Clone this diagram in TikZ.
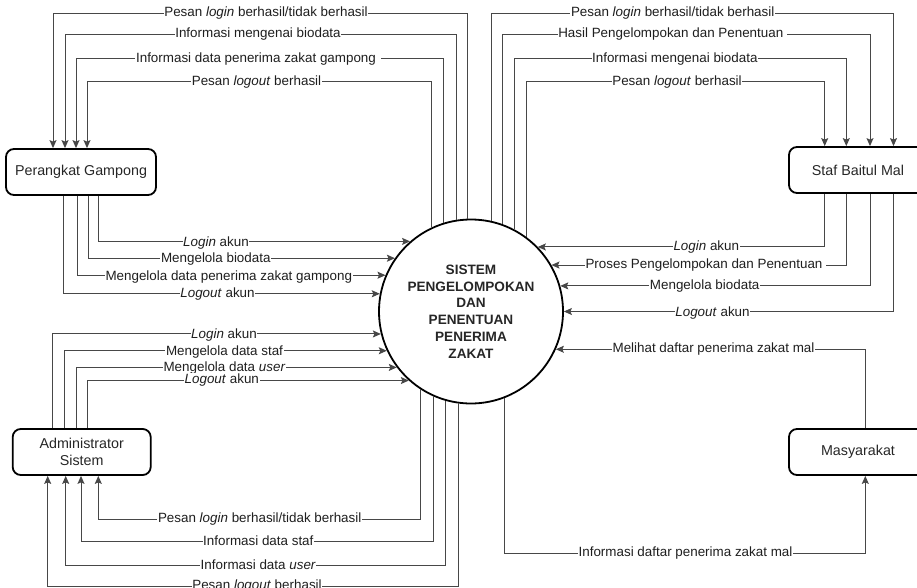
\documentclass[tikz,border=0pt]{standalone}
\usepackage{fontspec}
\setmainfont{Liberation Sans}
\usetikzlibrary{arrows.meta}
% points on the border of the central circle (sys): centre (471,311.5), radius 92
\newcommand\sysTopPt[2]{\pgfmathsetmacro\myang{acos((#2-471)/92)}\coordinate (#1) at (sys.\myang);}
\newcommand\sysBotPt[2]{\pgfmathsetmacro\myang{-acos((#2-471)/92)}\coordinate (#1) at (sys.\myang);}
\newcommand\sysLeftPt[2]{\pgfmathsetmacro\myang{180+asin((#2-311.5)/92)}\coordinate (#1) at (sys.\myang);}
\newcommand\sysRightPt[2]{\pgfmathsetmacro\myang{asin((311.5-#2)/92)}\coordinate (#1) at (sys.\myang);}
\begin{document}
\begin{tikzpicture}[x=1pt,y=-1pt,
  ent/.style={draw=black, line width=1.8pt, rounded corners=8pt, minimum height=46pt,
    inner sep=0pt, align=center, text=black!85, font=\fontsize{14.3}{16.7}\selectfont},
  proc/.style={draw=black, circle, line width=1.8pt, minimum size=184pt, inner sep=0pt,
    align=center, text=black!85, font=\bfseries\fontsize{13.6}{16.7}\selectfont},
  flow/.style={draw=black!72, line width=1pt, -{Stealth[length=8pt,width=7pt,inset=1.5pt]}},
  lbl/.style={fill=white, inner sep=0.6pt, text height=9.6pt, text depth=2.8pt,
    text=black!88, font=\fontsize{13.4}{15}\selectfont}]
\useasboundingbox (0,0) rectangle (917,588);

% ---------- nodes ----------
\node[proc] (sys) at (471,311.5) {SISTEM\\PENGELOMPOKAN\\DAN\\PENENTUAN\\PENERIMA\\ZAKAT};
\node[ent, minimum width=150pt] (pg) at (81,172) {Perangkat Gampong};
\node[ent, minimum width=138pt] (st) at (858,170) {Staf Baitul Mal};
\node[ent, minimum width=138pt] (ad) at (81.7,452) {Administrator\\Sistem};
\node[ent, minimum width=138pt] (ms) at (858,452) {Masyarakat};

% ---------- border points ----------
\sysTopPt{t1}{467.7}\sysTopPt{t2}{456}\sysTopPt{t3}{444}\sysTopPt{t4}{432}
\sysTopPt{t5}{490.3}\sysTopPt{t6}{502.3}\sysTopPt{t7}{514}\sysTopPt{t8}{525.7}
\sysLeftPt{p1}{242.7}\sysLeftPt{p2}{259}\sysLeftPt{p3}{276.7}\sysLeftPt{p4}{294}
\sysLeftPt{a1}{335}\sysLeftPt{a2}{351.7}\sysLeftPt{a3}{367.7}\sysLeftPt{a4}{380}
\sysRightPt{s1}{246.7}\sysRightPt{s2}{265}\sysRightPt{s3}{285.7}\sysRightPt{s4}{312.7}
\sysRightPt{m1}{349.3}
\sysBotPt{b1}{420.7}\sysBotPt{b2}{432.7}\sysBotPt{b3}{444.5}\sysBotPt{b4}{456.7}
\sysBotPt{b5}{502.7}

% ---------- sys -> Perangkat Gampong ----------
\draw[flow] (t1) -- (t1 |- 0,13.5) -| (pg.north -| 53,0);
\draw[flow] (t2) -- (t2 |- 0,34.5) -| (pg.north -| 65,0);
\draw[flow] (t3) -- (t3 |- 0,59) -| (pg.north -| 76,0);
\draw[flow] (t4) -- (t4 |- 0,82) -| (pg.north -| 87,0);
% ---------- sys -> Staf Baitul Mal ----------
\draw[flow] (t5) -- (t5 |- 0,13.5) -| (st.north -| 893.5,0);
\draw[flow] (t6) -- (t6 |- 0,34.5) -| (st.north -| 870,0);
\draw[flow] (t7) -- (t7 |- 0,59) -| (st.north -| 846.3,0);
\draw[flow] (t8) -- (t8 |- 0,82) -| (st.north -| 824.7,0);
% ---------- Perangkat Gampong -> sys ----------
\draw[flow] (pg.south -| 98,0) |- (p1);
\draw[flow] (pg.south -| 88,0) |- (p2);
\draw[flow] (pg.south -| 77,0) |- (p3);
\draw[flow] (pg.south -| 63,0) |- (p4);
% ---------- Administrator -> sys ----------
\draw[flow] (ad.north -| 52.3,0) |- (a1);
\draw[flow] (ad.north -| 64,0) |- (a2);
\draw[flow] (ad.north -| 76,0) |- (a3);
\draw[flow] (ad.north -| 87.3,0) |- (a4);
% ---------- Staf -> sys ----------
\draw[flow] (st.south -| 824.7,0) |- (s1);
\draw[flow] (st.south -| 846.3,0) |- (s2);
\draw[flow] (st.south -| 870.3,0) |- (s3);
\draw[flow] (st.south -| 893.7,0) |- (s4);
% ---------- Masyarakat ----------
\draw[flow] (ms.north -| 865.3,0) |- (m1);
\draw[flow] (b5) -- (b5 |- 0,553.3) -| (ms.south -| 865.3,0);
% ---------- sys -> Administrator ----------
\draw[flow] (b1) -- (b1 |- 0,519) -| (ad.south -| 98.3,0);
\draw[flow] (b2) -- (b2 |- 0,541.7) -| (ad.south -| 81,0);
\draw[flow] (b3) -- (b3 |- 0,565.7) -| (ad.south -| 65.7,0);
\draw[flow] (b4) -- (b4 |- 0,586.5) -| (ad.south -| 47.7,0);

% ---------- labels ----------
\node[lbl] (lt1) at (266,13.5) {Pesan \textit{login} berhasil/tidak berhasil};
\node[lbl] (lt2) at (258,34.5) {Informasi mengenai biodata};
\node[lbl] (lt3) at (258,59) {Informasi data penerima zakat gampong\kern4pt};
\node[lbl] (lt4) at (256.5,82) {Pesan \textit{logout} berhasil};

\node[lbl] (rt1) at (672.7,13.5) {Pesan \textit{login} berhasil/tidak berhasil};
\node[lbl] (rt2) at (672.3,34.5) {Hasil Pengelompokan dan Penentuan\kern3pt};
\node[lbl] (rt3) at (674.8,59) {Informasi mengenai biodata};
\node[lbl] (rt4) at (677,82) {Pesan \textit{logout} berhasil};

\node[lbl] (lp1) at (216,242.7) {\textit{Login} akun};
\node[lbl] (lp2) at (215.8,259) {Mengelola biodata};
\node[lbl] (lp3) at (228.8,276.7) {Mengelola data penerima zakat gampong};
\node[lbl] (lp4) at (217.5,294) {\textit{Logout} akun};

\node[lbl] (ls1) at (706.3,246.7) {\textit{Login} akun};
\node[lbl] (ls2) at (705.5,265) {Proses Pengelompokan dan Penentuan\kern3pt};
\node[lbl] (ls3) at (704.7,285.7) {Mengelola biodata};
\node[lbl] (ls4) at (712.5,312.7) {\textit{Logout} akun};
\node[lbl] (lm1) at (713.5,349.3) {Melihat daftar penerima zakat mal};
\node[lbl] (lm2) at (685.5,553.3) {Informasi daftar penerima zakat mal};

\node[lbl] (la1) at (224,335) {\textit{Login} akun};
\node[lbl] (la2) at (224.5,351.7) {Mengelola data staf};
\node[lbl] (la3) at (224.5,367.7) {Mengelola data \textit{user}};
\node[lbl] (la4) at (221.8,380) {\textit{Logout} akun};

\node[lbl] (lb1) at (259.7,519) {Pesan \textit{login} berhasil/tidak berhasil};
\node[lbl] (lb2) at (258.3,541.7) {Informasi data staf};
\node[lbl] (lb3) at (258.3,565.7) {Informasi data \textit{user}};
\node[lbl] (lb4) at (257,586.5) {Pesan \textit{logout} berhasil};
\end{tikzpicture}
\end{document}
